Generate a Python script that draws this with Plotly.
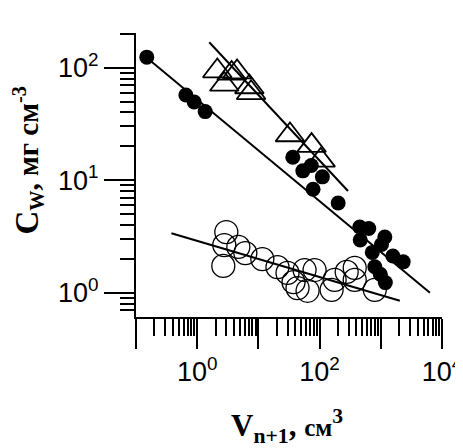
import plotly.graph_objects as go

# ---- data ----
filled_x = [0.150, 0.653, 0.893, 1.35, 36.5, 53.2, 73.1, 111, 78.2, 201, 453, 636, 461,
            1164, 1028, 726, 1574, 2323, 798, 982, 1186]
filled_y = [124, 57.1, 49.5, 40.7, 16.0, 12.1, 13.5, 10.7, 8.30, 6.27, 3.84, 3.72, 2.94,
            3.13, 2.68, 2.28, 2.12, 1.88, 1.70, 1.46, 1.23]

tri_x = [2.13, 3.65, 4.48, 2.77, 7.12, 7.59, 32.8, 73.9, 104]
tri_y = [93.3, 88.8, 91.4, 70.9, 67.3, 59.8, 25.2, 20.3, 15.0]

open_x = [2.99, 2.77, 2.67, 4.70, 6.12, 11.6, 20.5, 29.9, 43.6, 56.8, 82.8, 157, 176,
          277, 375, 375, 798, 63.6, 37.5]
open_y = [3.46, 2.65, 1.73, 2.55, 2.25, 1.99, 1.69, 1.50, 1.10, 1.59, 1.59, 1.06, 1.30,
          1.53, 1.66, 1.30, 1.06, 1.04, 1.24]

fit_filled_x = [0.150, 6353]
fit_filled_y = [122.7, 1.0]
fit_tri_x = [1.574, 291]
fit_tri_y = [168, 8.01]
fit_open_x = [0.379, 2048]
fit_open_y = [3.37, 0.849]

x_tickvals = [0.1, 1, 10, 100, 1000, 10000]
x_ticktext = ["", "10<sup>0</sup>", "", "10<sup>2</sup>", "", "10<sup>4</sup>"]
y_tickvals = [1, 10, 100]
y_ticktext = ["10<sup>0</sup>", "10<sup>1</sup>", "10<sup>2</sup>"]

x_title = "<b>V</b><sub><b>n+1</b></sub><b>, <span style='font-size:25px'>см</span></b><sup><b>3</b></sup>"
y_title = "<b><span style='font-size:33px'>C</span></b><sub><b>W</b></sub><b>, мг см</b><sup><b>-3</b></sup>"

# minor tick positions (2..9 in each decade)
minor_x = [m * 10 ** e for e in range(-1, 4) for m in range(2, 10)]
minor_y = [m * 10 ** e for e in range(-1, 3) for m in range(2, 10)]

fig = go.Figure()

fig.add_trace(go.Scatter(x=open_x, y=open_y, mode="markers",
                         marker=dict(symbol="circle-open", size=23, color="black",
                                     line=dict(width=1.3, color="black"))))
fig.add_trace(go.Scatter(x=tri_x, y=tri_y, mode="markers",
                         marker=dict(symbol="triangle-up-open", size=25, color="black",
                                     line=dict(width=1.8, color="black"))))
fig.add_trace(go.Scatter(x=filled_x, y=filled_y, mode="markers",
                         marker=dict(symbol="circle", size=15, color="black",
                                     line=dict(width=0))))
for fx, fy in [(fit_filled_x, fit_filled_y), (fit_tri_x, fit_tri_y), (fit_open_x, fit_open_y)]:
    fig.add_trace(go.Scatter(x=fx, y=fy, mode="lines",
                             line=dict(color="black", width=2)))

tickfont = dict(family="Liberation Sans, Arial", size=27, color="black")

fig.update_xaxes(type="log", range=[-1, 4], showgrid=False, zeroline=False,
                 showline=True, linecolor="black", linewidth=2, mirror=False,
                 automargin=False, ticklabeloverflow="allow",
                 tickmode="array", tickvals=x_tickvals, ticktext=x_ticktext,
                 ticks="outside", ticklen=30, tickwidth=2, tickcolor="black",
                 tickfont=tickfont,
                 minor=dict(tickmode="array", tickvals=minor_x, ticks="outside",
                            ticklen=17, tickwidth=1.5, tickcolor="black", showgrid=False))
fig.update_yaxes(type="log", range=[-0.216, 2.308], showgrid=False, zeroline=False,
                 showline=True, linecolor="black", linewidth=2, mirror=False,
                 automargin=False, ticklabeloverflow="allow",
                 tickmode="array", tickvals=y_tickvals, ticktext=y_ticktext,
                 ticks="outside", ticklen=30, tickwidth=2, tickcolor="black",
                 tickfont=tickfont,
                 minor=dict(tickmode="array", tickvals=minor_y, ticks="outside",
                            ticklen=14, tickwidth=1.5, tickcolor="black", showgrid=False))

titlefont = dict(family="Liberation Serif, Times New Roman", size=29, color="black")
fig.add_annotation(text=x_title, xref="paper", yref="paper", x=0.493, y=-0.384,
                   xanchor="center", yanchor="middle", showarrow=False,
                   font=dict(family="Liberation Serif, Times New Roman", size=31, color="black"))
fig.add_annotation(text=y_title, xref="paper", yref="paper", x=-0.352, y=0.552,
                   xanchor="center", yanchor="middle", showarrow=False, textangle=-90,
                   borderpad=0, font=titlefont)

# the page body has an 8px default margin, so the figure is 8px smaller than the window
fig.update_layout(width=455, height=440, showlegend=False,
                  margin=dict(l=128, r=21, t=25, b=131, autoexpand=False),
                  paper_bgcolor="white", plot_bgcolor="white")

fig.write_html("out.html")
